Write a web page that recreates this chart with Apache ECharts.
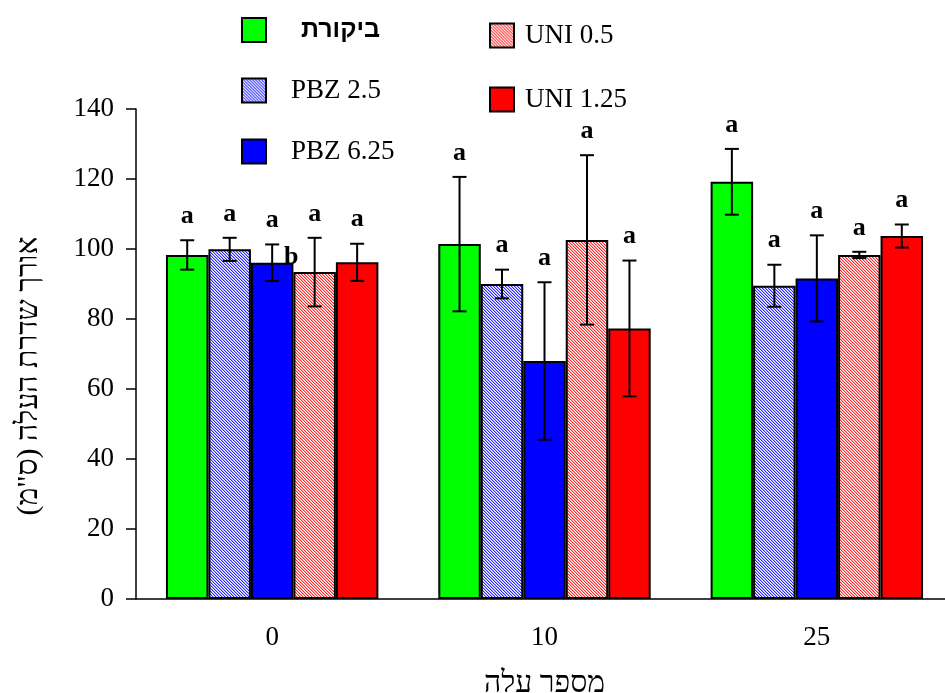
<!DOCTYPE html>
<html>
<head>
<meta charset="utf-8">
<script src="https://cdn.jsdelivr.net/npm/echarts@6/dist/echarts.min.js"></script>
<style>
  body { margin: 0; background: #fff; }
  #chart { width: 945px; height: 693px; }
</style>
</head>
<body>
<div id="chart"></div>
<script>
var categories = ['0', '10', '25']
var seriesNames = ['ביקורת', 'PBZ 2.5', 'PBZ 6.25', 'UNI 0.5', 'UNI 1.25']

// mean leaf rachis length per treatment, one value per leaf number
var control = [98.3, 101.4, 119.2]
var pbz25 = [99.9, 90.0, 89.5]
var pbz625 = [96.1, 68.0, 91.6]
var uni05 = [93.4, 102.6, 98.3]
var uni125 = [96.2, 77.3, 103.7]

// error bars (+/-)
var controlErr = [4.2, 19.2, 9.4]
var pbz25Err = [3.3, 4.1, 6.0]
var pbz625Err = [5.2, 22.5, 12.3]
var uni05Err = [9.8, 24.2, 0.9]
var uni125Err = [5.3, 19.4, 3.3]

// significance letters
var controlLetters = ['a', 'a', 'a']
var pbz25Letters = ['a', 'a', 'a']
var pbz625Letters = ['a', 'a', 'a']
var uni05Letters = ['a', 'a', 'a']
var uni125Letters = ['a', 'a', 'a']
var pbz625Extra = ['b', '', '']

var yTicks = [0, 20, 40, 60, 80, 100, 120, 140]

var values = [control, pbz25, pbz625, uni05, uni125]
var errors = [controlErr, pbz25Err, pbz625Err, uni05Err, uni125Err]
var letters = [controlLetters, pbz25Letters, pbz625Letters, uni05Letters, uni125Letters]
var extras = [['', '', ''], ['', '', ''], pbz625Extra, ['', '', ''], ['', '', '']]

var CAT_GAP = 0.22

// fine diagonal hatch like the original
function hatch(color, light) {
  var c = document.createElement('canvas')
  c.width = 3
  c.height = 3
  var ctx = c.getContext('2d')
  ctx.fillStyle = '#fff'
  ctx.fillRect(0, 0, 3, 3)
  for (var i = 0; i < 3; i++) {
    ctx.fillStyle = color
    ctx.fillRect(i, i, 1, 1)
    ctx.fillStyle = light
    ctx.fillRect((i + 1) % 3, i, 1, 1)
  }
  return { image: c, repeat: 'repeat' }
}

var fills = ['#00ff00', hatch('#2a2aff', '#a8a8ff'), '#0000ff', hatch('#ff2a2a', '#ffa8a8'), '#ff0000']

var rows = []
for (var s = 0; s < 5; s++) {
  for (var k = 0; k < categories.length; k++) {
    rows.push({ value: [k, s, values[s][k], errors[s][k]], letter: letters[s][k], extra: extras[s][k] })
  }
}

var barSeries = seriesNames.map(function(name, i) {
  return {
    name: name,
    type: 'bar',
    data: values[i],
    barGap: '0%',
    barCategoryGap: (CAT_GAP * 100) + '%',
    itemStyle: {
      color: fills[i],
      borderColor: '#000',
      borderWidth: 2
    },
    emphasis: { disabled: true },
    animation: false
  }
})

var legendText = { fontSize: 27, color: '#000', fontFamily: 'Liberation Serif', padding: [0, 0, 0, 20] }

var chart = echarts.init(document.getElementById('chart'))
chart.setOption({
  backgroundColor: '#fff',
  animation: false,
  textStyle: { fontFamily: 'Liberation Serif' },
  grid: {
    left: 136,
    right: -8,
    top: 109,
    bottom: 94,
    outerBoundsMode: 'none',
    containLabel: false
  },
  legend: [
    {
      data: [
        { name: 'ביקורת', textStyle: { fontFamily: 'Liberation Sans', fontWeight: 'bold', fontSize: 25, padding: [0, 0, 0, 30] } },
        'PBZ 2.5',
        'PBZ 6.25'
      ],
      orient: 'vertical',
      left: 236,
      top: 12,
      icon: 'rect',
      itemWidth: 24,
      itemHeight: 24,
      itemGap: 34,
      textStyle: legendText,
      selectedMode: false
    },
    {
      data: ['UNI 0.5', 'UNI 1.25'],
      orient: 'vertical',
      left: 484,
      top: 17,
      icon: 'rect',
      itemWidth: 24,
      itemHeight: 24,
      itemGap: 37,
      textStyle: { fontSize: 27, color: '#000', fontFamily: 'Liberation Serif', padding: [0, 0, 0, 6] },
      selectedMode: false
    }
  ],
  xAxis: {
    type: 'category',
    data: categories,
    name: 'מספר עלה',
    nameLocation: 'middle',
    nameGap: 70,
    nameTextStyle: { fontSize: 30, color: '#000', fontFamily: 'Liberation Serif' },
    axisLine: { lineStyle: { color: '#000', width: 1.5 } },
    axisTick: { length: 11, lineStyle: { color: '#000', width: 1.5 } },
    axisLabel: { fontSize: 27, color: '#000', margin: 25 }
  },
  yAxis: {
    type: 'value',
    min: yTicks[0],
    max: yTicks[yTicks.length - 1],
    interval: 20,
    name: 'אורך שדרת העלה (ס"מ)',
    nameLocation: 'middle',
    nameGap: 92,
    nameTextStyle: { fontSize: 30, color: '#000', fontFamily: 'Liberation Serif', padding: [0, 44, 0, 0] },
    splitLine: { show: false },
    axisLine: { show: true, lineStyle: { color: '#000', width: 1.5 } },
    axisTick: { show: true, length: 10, lineStyle: { color: '#000', width: 1.5 } },
    axisLabel: { fontSize: 27, color: '#000', margin: 22 }
  },
  series: barSeries.concat([
    {
      type: 'custom',
      data: rows,
      z: 5,
      silent: true,
      animation: false,
      renderItem: function(params, api) {
        var row = rows[params.dataIndex]
        var cat = api.value(0)
        var s = api.value(1)
        var val = api.value(2)
        var err = api.value(3)
        var band = api.size([1, 0])[0]
        var bw = band * (1 - CAT_GAP) / 5
        var x = api.coord([cat, 0])[0] + (s - 2) * bw
        var top = api.coord([cat, val + err])[1]
        var bot = api.coord([cat, val - err])[1]
        var barTop = api.coord([cat, val])[1]
        var ls = { stroke: '#000', lineWidth: 2 }
        var font = 'bold 26px "Liberation Serif"'
        var children = [
          { type: 'line', shape: { x1: x, y1: top, x2: x, y2: bot }, style: ls },
          { type: 'line', shape: { x1: x - 7, y1: top, x2: x + 7, y2: top }, style: ls },
          { type: 'line', shape: { x1: x - 7, y1: bot, x2: x + 7, y2: bot }, style: ls },
          {
            type: 'text',
            x: x,
            y: top - 24,
            style: { text: row.letter, fill: '#000', font: font, align: 'center', verticalAlign: 'middle' }
          }
        ]
        if (row.extra) {
          children.push({
            type: 'text',
            x: x + 19,
            y: barTop - 5,
            style: { text: row.extra, fill: '#000', font: font, align: 'center', verticalAlign: 'middle' }
          })
        }
        return { type: 'group', children: children }
      }
    }
  ])
})
</script>
</body>
</html>
